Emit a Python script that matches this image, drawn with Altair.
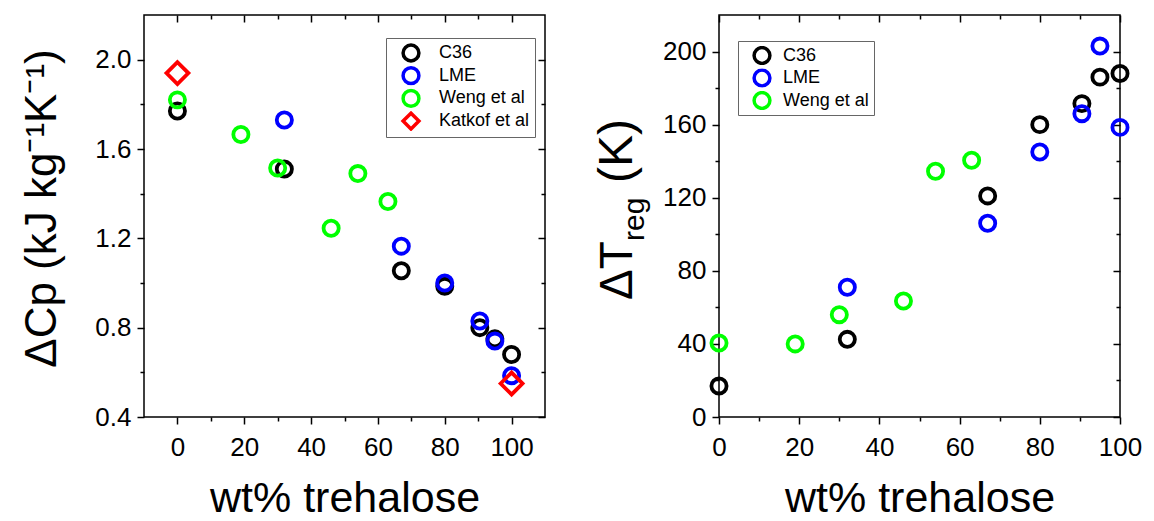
import altair as alt
import pandas as pd

FONT = "Liberation Sans"

# ---------------- data ----------------
# left panel: Delta Cp
cp_names = ["C36", "LME", "Weng et al", "Katkof et al"]
cp_colors = ["#000000", "#0000ff", "#00ff00", "#ff0000"]
cp_shapes = ["circle", "circle", "circle", "diamond"]

wt_c36 = [0, 32, 67, 80, 90.5, 95, 100]
cp_c36 = [1.77, 1.51, 1.055, 0.985, 0.80, 0.75, 0.68]
wt_lme = [32, 67, 80, 90.5, 95, 100]
cp_lme = [1.73, 1.165, 1.00, 0.83, 0.74, 0.585]
wt_weng = [0, 19, 30, 46, 54, 63]
cp_weng = [1.82, 1.665, 1.515, 1.245, 1.49, 1.365]
wt_katkof = [0, 100]
cp_katkof = [1.94, 0.55]

# right panel: Delta T_reg
tr_names = ["C36", "LME", "Weng et al"]
tr_colors = ["#000000", "#0000ff", "#00ff00"]
tr_shapes = ["circle", "circle", "circle"]

tr_c36 = [17, 42.5, 121, 160, 171.5, 186, 188]
tr_lme = [71, 106, 145, 166, 203, 158.5]
tr_weng = [40.5, 40, 56, 63.5, 134.5, 140.5]

# axis ticks
cp_x_major = [0, 20, 40, 60, 80, 100]
cp_x_minor = [10, 30, 50, 70, 90]
cp_y_major = [0.4, 0.8, 1.2, 1.6, 2.0]
cp_y_minor = [0.6, 1.0, 1.4, 1.8]
tr_x_major = [0, 20, 40, 60, 80, 100]
tr_x_minor = [10, 30, 50, 70, 90]
tr_y_major = [0, 40, 80, 120, 160, 200]
tr_y_minor = [20, 60, 100, 140, 180]

x_title = "wt% trehalose"
cp_title = "ΔCp (kJ kg⁻¹K⁻¹)"
tr_title_parts = ["ΔT", "reg", "(K)"]


def build_df(names, xs, ys):
    rows = []
    for n, xv, yv in zip(names, xs, ys):
        for a, b in zip(xv, yv):
            rows.append({"series": n, "wt": a, "val": b})
    return pd.DataFrame(rows)


df_cp = build_df(cp_names, [wt_c36, wt_lme, wt_weng, wt_katkof],
                 [cp_c36, cp_lme, cp_weng, cp_katkof])
df_tr = build_df(tr_names, [wt_c36, wt_lme, wt_weng],
                 [tr_c36, tr_lme, tr_weng])

W, H = 401, 402


def main_axis(orient, values, title=None, fmt=None, title_pad=0):
    kw = dict(orient=orient, values=values, tickSize=7, tickWidth=1.5,
              tickColor="black", domain=False, grid=False,
              labelFont=FONT, labelFontSize=26, labelColor="black",
              labelPadding=10 if orient == "bottom" else 6,
              labelFlush=False, labelOverlap=False)
    if fmt:
        kw["format"] = fmt
    if title:
        kw.update(title=title, titleFont=FONT,
                  titleFontSize=43 if orient == "bottom" else 44,
                  titleFontWeight="normal", titleColor="black", titlePadding=title_pad)
        if orient == "left":
            kw["titleY"] = 193
    else:
        kw["title"] = None
    return alt.Axis(**kw)


def plain_axis(orient, values, size, offset=0):
    kw = dict(orient=orient, values=values, tickSize=size, tickWidth=1.5,
              tickColor="black", domain=False, grid=False, labels=False,
              title=None)
    if offset:
        kw["offset"] = offset
    return alt.Axis(**kw)


def panel(df, names, colors, shapes, xdom, ydom,
          xmaj, xmin, ymaj, ymin, ytitle, yfmt, legend_xy, row_pad,
          sym_off, lab_off, leg_pad, clip_h):
    xs = alt.Scale(domain=xdom, nice=False, zero=False)
    ys = alt.Scale(domain=ydom, nice=False, zero=False)
    leg = alt.Legend(orient="none", legendX=legend_xy[0], legendY=legend_xy[1],
                     direction="vertical", title=None, fillColor="white",
                     strokeColor="#666666", padding=leg_pad, labelFont=FONT,
                     labelFontSize=18, labelColor="black", symbolStrokeWidth=3.5,
                     symbolSize=250, symbolOffset=sym_off, labelOffset=lab_off,
                     rowPadding=row_pad, clipHeight=clip_h)
    base = alt.Chart(df)
    pts = base.mark_point(filled=False, strokeWidth=3.8, opacity=1).encode(
        x=alt.X("wt:Q", scale=xs, axis=main_axis("bottom", xmaj, x_title, None, 17)),
        y=alt.Y("val:Q", scale=ys, axis=main_axis("left", ymaj, ytitle, yfmt, 30)),
        color=alt.Color("series:N", scale=alt.Scale(domain=names, range=colors), legend=leg),
        shape=alt.Shape("series:N", scale=alt.Scale(domain=names, range=shapes), legend=leg),
        size=alt.condition(alt.datum.series == "Katkof et al", alt.value(480), alt.value(230)),
    )
    minor_bl = base.mark_point(opacity=0).encode(
        x=alt.X("wt:Q", scale=xs, axis=plain_axis("bottom", xmin, 4)),
        y=alt.Y("val:Q", scale=ys, axis=plain_axis("left", ymin, 4)),
    )
    major_tr = base.mark_point(opacity=0).encode(
        x=alt.X("wt:Q", scale=xs, axis=plain_axis("top", xmaj, 7, -7)),
        y=alt.Y("val:Q", scale=ys, axis=plain_axis("right", ymaj, 7, -7)),
    )
    minor_tr = base.mark_point(opacity=0).encode(
        x=alt.X("wt:Q", scale=xs, axis=plain_axis("top", xmin, 4, -4)),
        y=alt.Y("val:Q", scale=ys, axis=plain_axis("right", ymin, 4, -4)),
    )
    return [minor_bl, major_tr, minor_tr, pts]


left_layers = panel(df_cp, cp_names, cp_colors, cp_shapes, [-10, 110], [0.4, 2.2],
                    cp_x_major, cp_x_minor, cp_y_major, cp_y_minor, cp_title, ".1f",
                    (242, 23), 2.7, 10, 18, 5, 20)
left = alt.layer(*left_layers).resolve_axis(x="independent", y="independent").properties(
    width=W, height=H)

right_layers = panel(df_tr, tr_names, tr_colors, tr_shapes, [0, 100], [0, 220],
                     tr_x_major, tr_x_minor, tr_y_major, tr_y_minor, None, None,
                     (19, 26), 3.5, 9, 11, 5, 19)

t_main = alt.Chart(pd.DataFrame({"t": [tr_title_parts[0]]})).mark_text(
    angle=270, align="left", baseline="alphabetic", font=FONT, fontSize=46, color="black"
).encode(x=alt.value(-87), y=alt.value(285), text="t:N")
t_sub = alt.Chart(pd.DataFrame({"t": [tr_title_parts[1]]})).mark_text(
    angle=270, align="left", baseline="alphabetic", font=FONT, fontSize=30, color="black"
).encode(x=alt.value(-75), y=alt.value(226), text="t:N")
t_unit = alt.Chart(pd.DataFrame({"t": [tr_title_parts[2]]})).mark_text(
    angle=270, align="left", baseline="alphabetic", font=FONT, fontSize=48, color="black"
).encode(x=alt.value(-87), y=alt.value(168), text="t:N")

right = alt.layer(*right_layers, t_main, t_sub, t_unit).resolve_axis(
    x="independent", y="independent").properties(width=W, height=H)

chart = alt.hconcat(left, right, spacing=46).resolve_scale(
    x="independent", y="independent", color="independent",
    shape="independent", size="independent"
).properties(
    padding={"left": 20, "top": 13, "right": 0, "bottom": 0}, background="white"
).configure_view(stroke="black", strokeWidth=1.5)

chart.save("out.html", embed_options={"renderer": "svg", "actions": False})
